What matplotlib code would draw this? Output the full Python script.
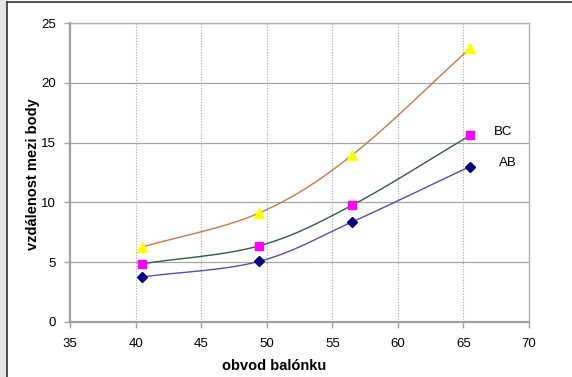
import matplotlib
matplotlib.use("Agg")
import matplotlib.pyplot as plt
import numpy as np

plt.rcParams['font.family'] = ['Liberation Sans', 'DejaVu Sans']

# measured points
obvod = [40.5, 49.4, 56.5, 65.5]
ab = [3.75, 5.05, 8.35, 13.0]
bc = [4.85, 6.35, 9.75, 15.6]
ac = [6.25, 9.1, 13.95, 22.9]

X_TICKS = [35, 40, 45, 50, 55, 60, 65, 70]
Y_TICKS = [0, 5, 10, 15, 20, 25]


def smooth(x, y, n=40):
    # Catmull-Rom curve through the points, like a spreadsheet "smoothed line"
    x = np.asarray(x, float)
    y = np.asarray(y, float)
    px = np.concatenate([[2 * x[0] - x[1]], x, [2 * x[-1] - x[-2]]])
    py = np.concatenate([[2 * y[0] - y[1]], y, [2 * y[-1] - y[-2]]])
    t = np.linspace(0, 1, n)
    xs, ys = [], []
    for i in range(1, len(px) - 2):
        for p, out in ((px, xs), (py, ys)):
            p0, p1, p2, p3 = p[i - 1], p[i], p[i + 1], p[i + 2]
            out.append(0.5 * ((2 * p1) + (-p0 + p2) * t
                              + (2 * p0 - 5 * p1 + 4 * p2 - p3) * t ** 2
                              + (-p0 + 3 * p1 - 3 * p2 + p3) * t ** 3))
    return np.concatenate(xs), np.concatenate(ys)


fig = plt.figure(figsize=(5.72, 3.77), dpi=100)
fig.patch.set_facecolor('white')

# light strip and dark frame edge on the left/top
fig.patches.append(plt.Rectangle((0, 0), 7 / 572, 1, transform=fig.transFigure,
                                 facecolor='#e6e6e6', edgecolor='none', zorder=0))
fig.add_artist(plt.Line2D([7 / 572, 7 / 572], [0, 1 - 2 / 377], transform=fig.transFigure,
                          color='#333333', lw=1.2))
fig.add_artist(plt.Line2D([7 / 572, 1], [1 - 2 / 377, 1 - 2 / 377], transform=fig.transFigure,
                          color='#333333', lw=1.2))

ax = fig.add_axes([70 / 572, 1 - 321.7 / 377, 459 / 572, 298.4 / 377])

series = [
    (ac, '#c8784a', '^', '#ffff00', 7),
    (bc, '#2f5f3a', 's', '#ff00ff', 6),
    (ab, '#5050b0', 'D', '#000080', 5),
]
for vals, lc, mk, mc, ms in series:
    sx, sy = smooth(obvod, vals)
    ax.plot(sx, sy, color=lc, lw=1.0, zorder=3)
    ax.plot(obvod, vals, ls='none', marker=mk, markersize=ms,
            markerfacecolor=mc, markeredgecolor=mc, zorder=4)

ax.text(67.3, bc[-1] + 0.3, 'BC', fontsize=9.5, ha='left', va='center')
ax.text(67.7, ab[-1] + 0.3, 'AB', fontsize=9.5, ha='left', va='center')

ax.set_xlim(35, 70)
ax.set_ylim(0, 25)
ax.set_xticks(X_TICKS)
ax.set_yticks(Y_TICKS)

for v in Y_TICKS[1:]:
    ax.axhline(v, color='#a6a6a6', lw=0.9, zorder=1)
for v in X_TICKS[1:-1]:
    ax.axvline(v, color='#a6a6a6', lw=0.8, ls=(0, (1, 1.5)), zorder=1)

for side in ('left', 'bottom'):
    ax.spines[side].set_color('#a0a0a0')
    ax.spines[side].set_linewidth(1.6)
for side in ('top', 'right'):
    ax.spines[side].set_color('#b0b0b0')
    ax.spines[side].set_linewidth(1.0)

ax.tick_params(axis='both', labelsize=9.5, color='#a0a0a0', length=4, width=1)
ax.tick_params(axis='x', pad=8)
ax.tick_params(axis='y', pad=6)

ax.set_xlabel('obvod balónku', fontsize=10.5, fontweight='bold', labelpad=4)
ax.xaxis.set_label_coords(0.444, -0.125)
ax.set_ylabel('vzdálenost mezi body', fontsize=10.5, fontweight='bold', labelpad=0)
ax.yaxis.set_label_coords(-0.066, 0.495)

fig.savefig('out.png', dpi=100, facecolor='white')
